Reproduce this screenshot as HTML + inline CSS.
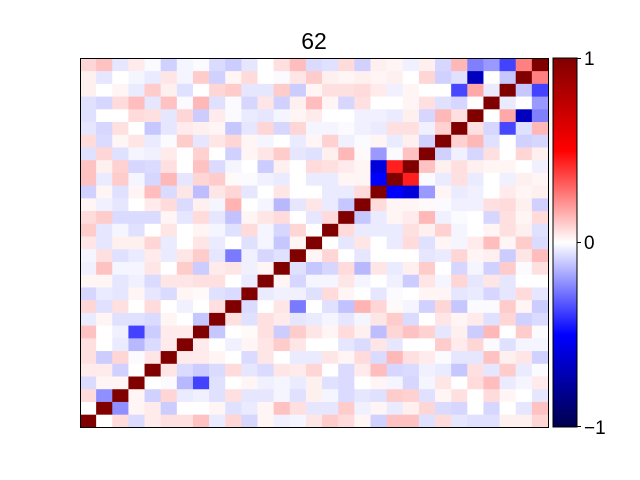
<!DOCTYPE html>
<html><head><meta charset="utf-8"><style>
body{margin:0;background:#fff;}
svg{display:block;font-family:"Liberation Sans","DejaVu Sans",sans-serif;}
</style></head><body>
<svg id="chart" width="640" height="480">
<defs>
<linearGradient id="seis" x1="0" y1="1" x2="0" y2="0">
<stop offset="0" stop-color="rgb(0,0,77)"/>
<stop offset="0.25" stop-color="rgb(0,0,255)"/>
<stop offset="0.5" stop-color="rgb(255,255,255)"/>
<stop offset="0.75" stop-color="rgb(255,0,0)"/>
<stop offset="1" stop-color="rgb(128,0,0)"/>
</linearGradient>
</defs>
<text x="314" y="49" font-size="23" text-anchor="middle">62</text>
<g id="cells"></g>
<rect x="80.5" y="58.5" width="468" height="369" fill="none" stroke="#000" stroke-width="1"/>
<rect x="553" y="58" width="24" height="369" fill="url(#seis)" stroke="#000" stroke-width="1"/>
<g stroke="#000" stroke-width="1">
<line x1="577" y1="58.5" x2="581" y2="58.5"/>
<line x1="577" y1="242.5" x2="581" y2="242.5"/>
<line x1="577" y1="426.5" x2="581" y2="426.5"/>
</g>
<text x="584" y="65" font-size="19">1</text>
<text x="584" y="249" font-size="19">0</text>
<text x="584" y="434" font-size="19">−1</text>
</svg>
<script>
// upper triangle values: row r (from bottom) lists columns r+1..28
const upper0=[0,.07,-.07,.04,.06,.06,.12,-.04,.08,-.08,.02,-.03,-.02,.05,.1,.07,.02,-.09,.12,.12,-.06,.07,-.05,-.06,-.06,.03,.03,.08];
const upper1=[-.22,.02,.04,-.1,0,0,.02,-.06,-.04,.02,.12,.06,-.05,-.05,.1,-.03,.02,-.04,.03,.08,-.07,-.08,0,-.08,0,-.05,.12];
const upper2=[.02,-.09,.08,-.04,-.03,-.06,.06,-.05,-.05,-.02,-.06,.03,-.02,-.07,-.05,-.06,.1,.09,-.06,.02,.06,0,.07,.02,0,-.05];
const upper3=[0,-.01,-.14,-.37,-.06,0,.02,-.03,-.02,-.04,.03,-.06,-.07,0,.02,-.02,-.08,-.02,.05,0,.07,.13,-.04,-.02,.04];
const upper4=[.05,-.07,-.1,-.07,.07,-.05,-.07,.05,.04,.08,0,-.07,.04,.13,-.08,-.07,-.03,-.04,-.11,.06,-.05,.1,-.04,-.01];
const upper5=[.04,.04,.02,0,-.07,.05,0,-.04,-.04,.05,.02,.07,-.07,.14,.06,.04,-.01,-.05,-.05,.12,.03,.05,-.09];
const upper6=[.04,0,-.03,.02,.05,.1,.05,0,0,-.05,-.07,.05,-.05,0,0,.1,.04,.08,-.01,-.06,-.02,-.02];
const upper7=[-.11,0,.01,.06,-.1,.1,.05,.02,.07,.03,-.13,.08,.12,.09,-.05,.03,-.1,.14,0,.1,-.01];
const upper8=[.06,-.06,.06,.04,-.05,-.04,-.02,-.05,-.02,.05,.1,-.07,0,.05,.02,.04,-.06,.08,-.09,-.07];
const upper9=[-.07,0,.05,-.26,0,-.06,-.12,.15,.08,.01,-.02,-.09,.08,-.11,-.01,-.01,.1,.02,-.1];
const upper10=[-.04,-.03,-.03,-.06,.07,.02,0,-.05,-.01,0,.02,.02,-.05,-.04,-.08,-.05,.07,-.05];
const upper11=[.02,-.08,-.02,-.02,.05,-.02,0,-.03,-.1,.05,-.02,.08,-.05,.05,-.05,0,0];
const upper12=[-.06,-.11,-.08,.07,-.14,.05,-.04,.03,.1,0,-.08,-.02,-.09,.1,-.01,.06];
const upper13=[.02,.08,0,-.05,0,0,0,-.05,-.04,.08,.02,.03,-.1,.05,.13];
const upper14=[0,-.05,.05,0,-.04,.07,-.06,.02,-.02,.04,.13,.02,.1,-.07];
const upper15=[.07,-.04,-.04,-.04,.06,.03,.09,-.02,0,.02,.06,.03,-.06];
const upper16=[-.11,-.04,.02,.04,.14,-.03,-.01,0,-.08,.06,.02,.07];
const upper17=[.07,.02,.02,.01,-.01,-.03,-.03,.06,.07,.03,-.09];
const upper18=[-.5,-.6,-.2,.02,-.04,-.03,0,.04,.02,.03];
const upper19=[.44,-.01,-.04,.06,-.04,0,-.03,.03,.02];
const upper20=[.12,.03,.06,.03,.02,.02,0,-.03];
const upper21=[-.09,-.03,-.08,.06,0,.08,.03];
const upper22=[.09,.14,-.06,0,-.09,-.08];
const upper23=[.06,-.08,-.36,-.06,.14];
const upper24=[0,.17,-.68,-.25];
const upper25=[-.04,0,-.2];
const upper26=[-.11,-.37];
const upper27=[.25];
const upperRows=[upper0,upper1,upper2,upper3,upper4,upper5,upper6,upper7,upper8,upper9,upper10,upper11,upper12,upper13,upper14,upper15,upper16,upper17,upper18,upper19,upper20,upper21,upper22,upper23,upper24,upper25,upper26,upper27];

const N=upperRows.length+1;
const M=[];
for(let r=0;r<N;r++){M.push(new Array(N).fill(0));M[r][r]=1;}
upperRows.forEach((arr,r)=>arr.forEach((v,k)=>{const c=r+1+k;M[r][c]=v;M[c][r]=v;}));

const X0=80,X1=548,Y0=58,Y1=427;
const cw=(X1-X0)/N, ch=(Y1-Y0)/N;
function xPos(c){return X0+c*cw;}
function yPos(r){return Y1-(r+1)*ch;}
function lerp(a,b,t){return a+(b-a)*t;}
function seismic(v){
  v=Math.max(-1,Math.min(1,v));
  const st=[[-1,[0,0,77]],[-0.5,[0,0,255]],[0,[255,255,255]],[0.5,[255,0,0]],[1,[128,0,0]]];
  for(let i=0;i<4;i++){
    const [a,ca]=st[i],[b,cb]=st[i+1];
    if(v<=b){const t=(v-a)/(b-a);return 'rgb('+ca.map((x,j)=>Math.round(lerp(x,cb[j],t))).join(',')+')';}
  }
  return 'rgb(128,0,0)';
}
const g=document.getElementById('cells');
const ns='http://www.w3.org/2000/svg';
for(let r=0;r<N;r++)for(let c=0;c<N;c++){
  const el=document.createElementNS(ns,'rect');
  el.setAttribute('x',xPos(c));
  el.setAttribute('y',yPos(r));
  el.setAttribute('width',cw+0.4);
  el.setAttribute('height',ch+0.4);
  el.setAttribute('fill',seismic(M[r][c]));
  
  
  g.appendChild(el);
}
</script>
</body></html>
